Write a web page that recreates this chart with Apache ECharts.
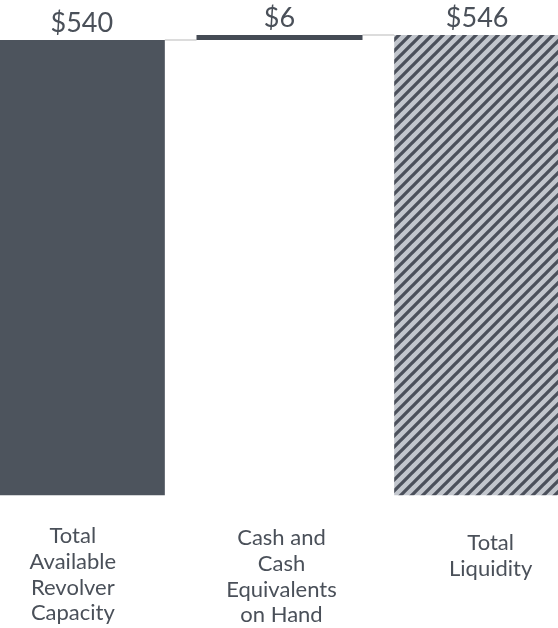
<!DOCTYPE html>
<html>
<head>
<meta charset="utf-8">
<script src="https://cdn.jsdelivr.net/npm/echarts@6/dist/echarts.min.js"></script>
<style>
html,body{margin:0;padding:0;background:#fff;overflow:hidden;width:558px;height:628px;}
#chart{width:593px;height:628px;margin-left:-17px;}
</style>
</head>
<body>
<div id="chart"></div>
<script>
// Data
var categories = ['Total\nAvailable\nRevolver\nCapacity', 'Cash and\nCash\nEquivalents\non Hand', 'Total\nLiquidity'];
var baseValues = [0, 540, 0];
var barValues = [540, 6, 546];
var valueLabels = ['$540', '$6', '$546'];
var connectorLevels = [540, 546];

var textColor = '#4a5059';
var barW = 166;

// Hatch pattern
var T = 11;
var pc = document.createElement('canvas');
pc.width = T; pc.height = T;
var ctx = pc.getContext('2d');
ctx.fillStyle = '#c2c6cd';
ctx.fillRect(0, 0, T, T);
ctx.strokeStyle = '#4b505b';
ctx.lineWidth = 3.3;
ctx.beginPath();
ctx.moveTo(-2, T + 2); ctx.lineTo(T + 2, -2);
ctx.moveTo(-T, T); ctx.lineTo(T, -T);
ctx.moveTo(0, 2 * T); ctx.lineTo(2 * T, 0);
ctx.stroke();

var barColors = ['#4d545d', '#454b55', {image: pc, repeat: 'repeat'}];
var labelPads = [[0, 18, 0, 0], [2, 0, 0, 4], [7, 0, 0, 27]];

var chart = echarts.init(document.getElementById('chart'));
chart.setOption({
  animation: false,
  grid: {left: 0, right: 0, top: 35, bottom: 125},
  xAxis: {
    type: 'category',
    data: categories.map(function (c, i) {
      return {value: c, textStyle: {padding: labelPads[i]}};
    }),
    axisLine: {show: false},
    axisTick: {show: false},
    axisLabel: {
      interval: 0,
      margin: 28,
      color: textColor,
      fontFamily: 'Lato',
      fontSize: 22,
      lineHeight: 25.7,
      align: 'center'
    }
  },
  yAxis: {type: 'value', min: 0, max: 546, show: false, splitLine: {show: false}},
  series: [
    {
      type: 'bar', stack: 'w', barWidth: barW,
      itemStyle: {color: 'transparent'},
      data: baseValues, silent: true
    },
    {
      type: 'bar', stack: 'w', barWidth: barW,
      data: barValues.map(function (v, i) {
        return {value: v, itemStyle: {color: barColors[i]}};
      }),
      label: {
        show: true, position: 'top', distance: 3,
        color: textColor, fontFamily: 'Lato', fontSize: 27,
        formatter: function (p) { return valueLabels[p.dataIndex]; }
      }
    },
    {
      type: 'custom',
      data: connectorLevels.map(function (v, i) { return [i, v]; }),
      renderItem: function (params, api) {
        var i = api.value(0), lv = api.value(1);
        var a = api.coord([i, lv]);
        var b = api.coord([i + 1, lv]);
        return {
          type: 'line',
          shape: {x1: a[0] + barW / 2, y1: a[1], x2: b[0] - barW / 2, y2: b[1]},
          style: {stroke: '#dcdcdc', lineWidth: 2}
        };
      },
      z: 1
    }
  ]
});
</script>
</body>
</html>
